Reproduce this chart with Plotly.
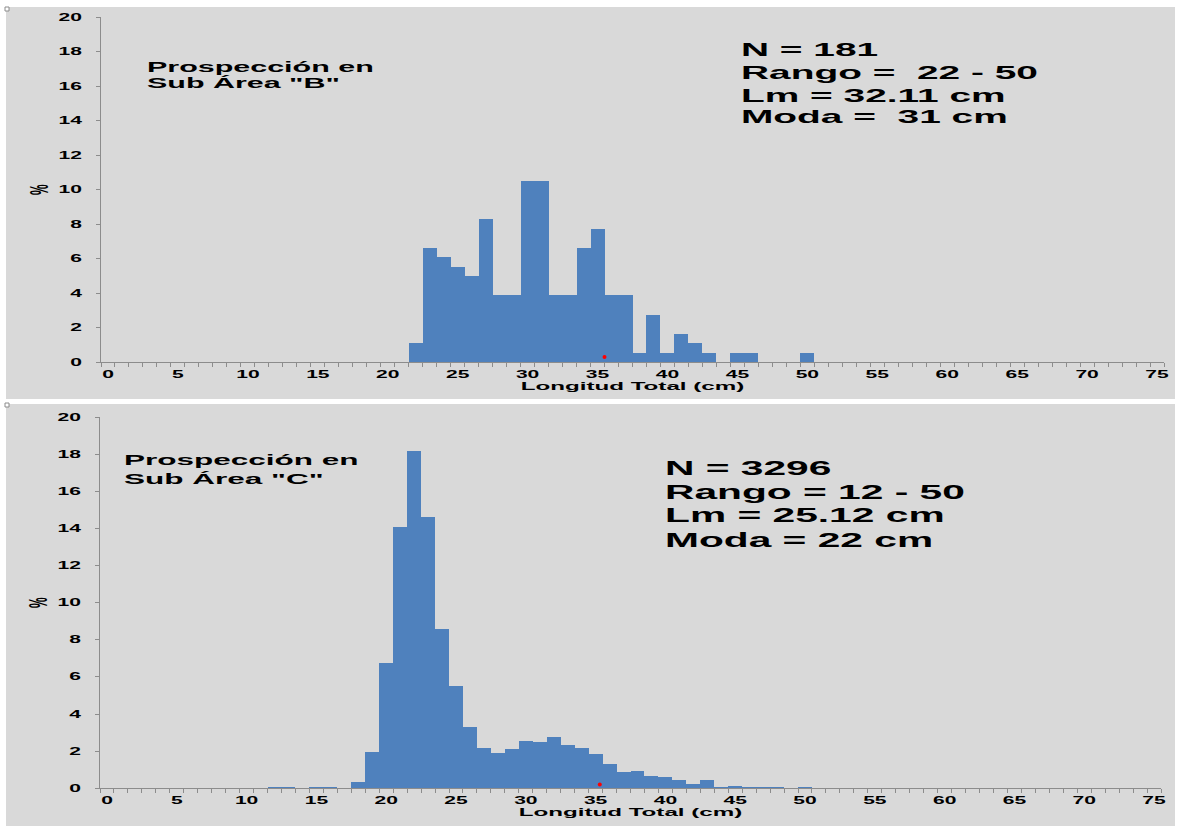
import plotly.graph_objects as go

# Length-frequency distributions (% of catch per 1 cm length class)
lengths_b = [22, 23, 24, 25, 26, 27, 28, 29, 30, 31, 32, 33, 34, 35, 36, 37,
             38, 39, 40, 41, 42, 43, 45, 46, 50]
pct_b = [1.10, 6.63, 6.08, 5.52, 4.97, 8.29, 3.87, 3.87, 10.50, 10.50, 3.87,
         3.87, 6.63, 7.73, 3.87, 3.87, 0.55, 2.76, 0.55, 1.66, 1.10, 0.55,
         0.55, 0.55, 0.55]

lengths_c = [12, 13, 15, 16, 18, 19, 20, 21, 22, 23, 24, 25, 26, 27, 28, 29,
             30, 31, 32, 33, 34, 35, 36, 37, 38, 39, 40, 41, 42, 43, 44, 45,
             46, 47, 48, 50]
pct_c = [0.03, 0.03, 0.03, 0.06, 0.33, 1.94, 6.73, 14.10, 18.15, 14.64, 8.56,
         5.49, 3.30, 2.17, 1.88, 2.12, 2.55, 2.51, 2.78, 2.33, 2.17, 1.85,
         1.29, 0.88, 0.91, 0.68, 0.61, 0.45, 0.23, 0.43, 0.03, 0.14, 0.03,
         0.09, 0.09, 0.06]

# Single red reference points near the base of each panel
ref_x_b, ref_y_b = [35.5], [0.3]
ref_x_c, ref_y_c = [35.3], [0.2]

x_ticks = list(range(0, 76, 5))
y_ticks = list(range(0, 21, 2))

title_b = ["Prospección en", "Sub Área \"B\""]
stats_b = ["N = 181", "Rango = \u00a022 - 50", "Lm = 32.11 cm", "Moda = \u00a031 cm"]
title_c = ["Prospección en", "Sub Área \"C\""]
stats_c = ["N = 3296", "Rango = 12 - 50", "Lm = 25.12 cm", "Moda = 22 cm"]

W, H = 1181, 826
BG = "#d9d9d9"
BAR = "#4f81bd"
AXIS = "#8c8c8c"
FONT = "Liberation Sans, Arial, sans-serif"


def px(x):
    return x / W


def py(y):
    return 1 - y / H


fig = go.Figure()

bar_style = dict(marker=dict(color=BAR, line=dict(width=0)),
                 width=1, hoverinfo="x+y", showlegend=False)
fig.add_trace(go.Bar(x=lengths_b, y=pct_b, xaxis="x", yaxis="y", **bar_style))
fig.add_trace(go.Bar(x=lengths_c, y=pct_c, xaxis="x2", yaxis="y2", **bar_style))
dot = dict(mode="markers", marker=dict(color="#ff0000", size=4), showlegend=False)
fig.add_trace(go.Scatter(x=ref_x_b, y=ref_y_b, xaxis="x", yaxis="y", **dot))
fig.add_trace(go.Scatter(x=ref_x_c, y=ref_y_c, xaxis="x2", yaxis="y2", **dot))

tick_font = dict(family=FONT, size=10, color="black", weight="bold")


def xaxis(domain, anchor):
    return dict(
        domain=domain, anchor=anchor, range=[-0.5, 75.5], automargin=False,
        tickmode="array", tickvals=x_ticks, ticks="", ticklabelstandoff=3,
        tickfont=tick_font, showline=True, linecolor=AXIS, linewidth=1,
        showgrid=False, zeroline=False,
        minor=dict(tickmode="array", tickvals=[k - 0.5 for k in range(77)],
                   ticks="outside", ticklen=4, tickcolor=AXIS, tickwidth=1,
                   showgrid=False),
        title=dict(text="Longitud Total (cm)", standoff=2,
                   font=dict(family=FONT, size=11.5, color="black", weight="bold")),
    )


def yaxis(domain, anchor):
    return dict(
        domain=domain, anchor=anchor, range=[0, 20], automargin=False,
        tickmode="array", tickvals=y_ticks, ticks="outside", ticklen=4,
        tickcolor=AXIS, ticklabelstandoff=12, tickfont=tick_font,
        showline=True, linecolor=AXIS, linewidth=1, showgrid=False,
        zeroline=False,
        title=dict(text="%", standoff=24,
                   font=dict(family=FONT, size=12, color="black", weight="bold")),
    )


annotations = []


def add_lines(lines, left, centers, size):
    for text, cy in zip(lines, centers):
        annotations.append(dict(
            text=text, xref="paper", yref="paper", x=px(left), y=py(cy),
            xanchor="left", yanchor="middle", align="left", showarrow=False,
            font=dict(family=FONT, size=size, color="black", weight="bold"),
        ))


add_lines(title_b, 145, [66.7, 82.8], 14.5)
add_lines(stats_b, 739, [50, 72.7, 95.7, 116.3], 18.5)
add_lines(title_c, 121.7, [459, 479], 15)
add_lines(stats_c, 662.7, [468.3, 491.7, 515, 539.7], 19.4)

shapes = [
    dict(type="rect", xref="paper", yref="paper", layer="below",
         x0=px(6), x1=px(1175), y0=py(7), y1=py(399),
         fillcolor=BG, line=dict(width=0)),
    dict(type="rect", xref="paper", yref="paper", layer="below",
         x0=px(6), x1=px(1175), y0=py(404), y1=py(826),
         fillcolor=BG, line=dict(width=0)),
    dict(type="rect", xref="paper", yref="paper",
         x0=px(5), x1=px(9), y0=py(7), y1=py(11),
         fillcolor="white", line=dict(color=AXIS, width=1)),
    dict(type="rect", xref="paper", yref="paper",
         x0=px(5), x1=px(9), y0=py(403), y1=py(407),
         fillcolor="white", line=dict(color=AXIS, width=1)),
]

fig.update_layout(
    width=W, height=H, margin=dict(l=0, r=0, t=0, b=0, autoexpand=False),
    paper_bgcolor="white", plot_bgcolor="rgba(0,0,0,0)",
    bargap=0, showlegend=False,
    xaxis=xaxis([px(101), px(1164)], "y"),
    yaxis=yaxis([py(362.3), py(17)], "x"),
    xaxis2=xaxis([px(100), px(1161)], "y2"),
    yaxis2=yaxis([py(788.3), py(417)], "x2"),
    annotations=annotations, shapes=shapes,
)

# Widen the lettering horizontally (wide, flat bold type).  Horizontal text is
# stretched along its run; the rotated "%" is stretched across its glyph height,
# which is the horizontal direction on screen.
widen_text = """
var gd = document.getElementById('{plot_id}');
var widen = 2.1;
gd.querySelectorAll('text').forEach(function (t) {
  if (!t.textContent || !t.textContent.trim()) return;
  var tr = t.getAttribute('transform') || '';
  if (tr.indexOf('rotate') !== -1) {
    var bb = t.getBBox();
    var cy = bb.y + bb.height / 2;
    t.setAttribute('transform', tr + ' translate(0,' + cy + ') scale(1,' + widen +
                   ') translate(0,' + (-cy) + ')');
    return;
  }
  var w = t.getComputedTextLength();
  if (w > 0) {
    t.setAttribute('textLength', (w * widen).toFixed(1));
    t.setAttribute('lengthAdjust', 'spacingAndGlyphs');
  }
});
"""

fig.write_html("out.html", post_script=widen_text, config={"displayModeBar": False})
